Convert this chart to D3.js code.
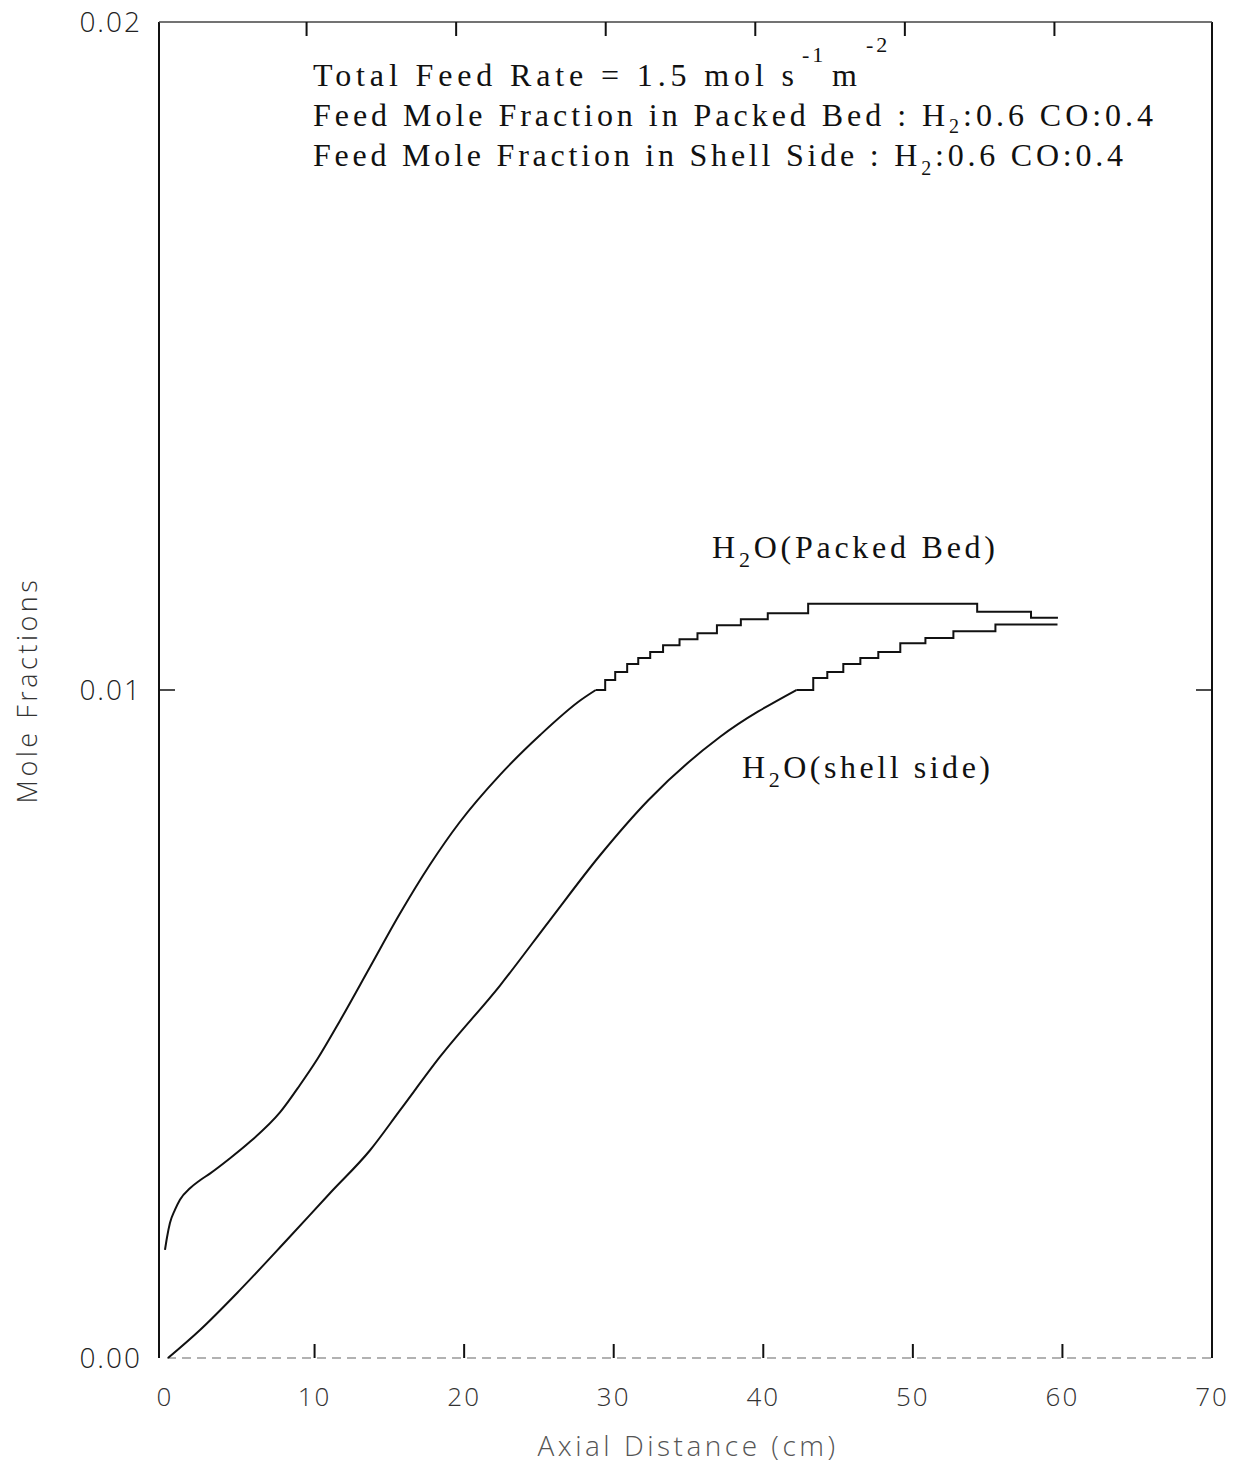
<!DOCTYPE html>
<html>
<head>
<meta charset="utf-8">
<script src="https://cdn.jsdelivr.net/npm/d3@7"></script>
<style>
  body { margin: 0; background: #fff; }
  svg { display: block; }
</style>
</head>
<body>
<script>
// axis ticks
const xTicks = [0, 10, 20, 30, 40, 50, 60, 70];
const xInnerTicks = [10, 20, 30, 40, 50, 60];
const yTicks = [0, 0.01, 0.02];
const yTickLabels = ["0.00", "0.01", "0.02"];

// H2O (packed bed) - smooth part, then the stepped tail
const packedX = [0, 0.13, 0.33, 0.67, 1.0, 1.67, 2.34, 3.0, 4.35, 5.7, 7.7, 9.0, 10.2, 11.7, 13.7, 15.7, 17.7, 19.7, 22.4, 25.1, 27.8, 28.8];
const packedY = [0.00162, 0.00180, 0.00202, 0.00222, 0.00237, 0.00254, 0.00266, 0.00276, 0.00299, 0.00324, 0.00368, 0.00408, 0.00448, 0.00505, 0.00585, 0.00665, 0.00738, 0.00802, 0.00873, 0.00933, 0.00985, 0.01000];
const packedStepX = [28.8, 29.43, 30.1, 30.9, 31.64, 32.44, 33.3, 34.4, 35.6, 36.9, 38.5, 40.3, 43.0, 54.3, 57.9, 59.7];
const packedStepY = [0.01000, 0.01015, 0.01027, 0.01039, 0.01048, 0.01057, 0.01067, 0.01076, 0.01085, 0.01097, 0.01106, 0.01115, 0.01129, 0.01117, 0.01108, 0.01108];

// H2O (shell side)
const shellX = [0.2, 2.34, 5.02, 8.16, 11.04, 13.71, 15.72, 18.39, 22.41, 25.75, 29.1, 32.31, 37.12, 42.21];
const shellY = [0, 0.00042, 0.00102, 0.00177, 0.00247, 0.00311, 0.00371, 0.00451, 0.00558, 0.00656, 0.00753, 0.00835, 0.00930, 0.01000];
const shellStepX = [42.21, 43.34, 44.28, 45.35, 46.49, 47.69, 49.16, 50.84, 52.71, 55.52, 59.67];
const shellStepY = [0.01000, 0.01018, 0.01027, 0.01039, 0.01048, 0.01057, 0.01070, 0.01078, 0.01088, 0.01098, 0.01098];

const W = 1238, H = 1470;
const frameL = 159, frameR = 1212, frameT = 22, frameB = 1358;

const svg = d3.select("body").append("svg")
  .attr("width", W)
  .attr("height", H);

svg.append("rect").attr("width", W).attr("height", H).attr("fill", "#fff");

const x = d3.scaleLinear().domain([0, 70]).range([165, 1212]);
const y = d3.scaleLinear().domain([0, 0.02]).range([frameB, frameT]);

const sans = "'Open Sans', 'DejaVu Sans', sans-serif";
const serif = "'Liberation Serif', 'DejaVu Serif', serif";

// frame
svg.append("line").attr("x1", frameL).attr("x2", frameL).attr("y1", frameT).attr("y2", frameB)
  .attr("stroke", "#111").attr("stroke-width", 2);
svg.append("line").attr("x1", frameR).attr("x2", frameR).attr("y1", frameT).attr("y2", frameB)
  .attr("stroke", "#111").attr("stroke-width", 2);
svg.append("line").attr("x1", frameL).attr("x2", frameR).attr("y1", frameT).attr("y2", frameT)
  .attr("stroke", "#444").attr("stroke-width", 1.5);
svg.append("line").attr("x1", frameL + 8).attr("x2", frameR).attr("y1", frameB).attr("y2", frameB)
  .attr("stroke", "#999").attr("stroke-width", 1.5).attr("stroke-dasharray", "9 6");

// ticks
svg.selectAll(".xtb").data(xInnerTicks).join("line")
  .attr("x1", d => x(d)).attr("x2", d => x(d))
  .attr("y1", frameB).attr("y2", frameB - 14)
  .attr("stroke", "#111").attr("stroke-width", 2);
svg.selectAll(".xtt").data(xInnerTicks).join("line")
  .attr("x1", d => x(d) - 8).attr("x2", d => x(d) - 8)
  .attr("y1", frameT).attr("y2", frameT + 14)
  .attr("stroke", "#111").attr("stroke-width", 2);
svg.append("line").attr("x1", frameL).attr("x2", frameL + 16).attr("y1", y(0.01)).attr("y2", y(0.01))
  .attr("stroke", "#111").attr("stroke-width", 1.5);
svg.append("line").attr("x1", frameR - 16).attr("x2", frameR).attr("y1", y(0.01)).attr("y2", y(0.01))
  .attr("stroke", "#111").attr("stroke-width", 1.5);

// tick labels
svg.selectAll(".xl").data(xTicks).join("text")
  .attr("x", d => x(d)).attr("y", 1406)
  .attr("text-anchor", "middle")
  .attr("font-family", sans).attr("font-weight", 300).attr("font-size", 26)
  .attr("letter-spacing", 2).attr("fill", "#333")
  .text(d => d);
svg.selectAll(".yl").data(yTicks).join("text")
  .attr("x", 142).attr("y", d => y(d) + 10)
  .attr("text-anchor", "end")
  .attr("font-family", sans).attr("font-weight", 300).attr("font-size", 28)
  .attr("letter-spacing", 2).attr("fill", "#222")
  .text((d, i) => yTickLabels[i]);

// axis titles
svg.append("text")
  .attr("x", 688).attr("y", 1456).attr("text-anchor", "middle")
  .attr("font-family", sans).attr("font-weight", 300).attr("font-size", 28)
  .attr("letter-spacing", 3.5).attr("fill", "#555")
  .text("Axial Distance (cm)");
svg.append("text")
  .attr("transform", "translate(37,690) rotate(-90)").attr("text-anchor", "middle")
  .attr("font-family", sans).attr("font-weight", 300).attr("font-size", 27)
  .attr("letter-spacing", 3.5).attr("fill", "#333")
  .text("Mole Fractions");

// curves
const smooth = d3.line().x(d => x(d[0])).y(d => y(d[1])).curve(d3.curveMonotoneX);
const step = d3.line().x(d => x(d[0])).y(d => y(d[1])).curve(d3.curveStepAfter);

const series = [
  { xs: packedX, ys: packedY, gen: smooth },
  { xs: packedStepX, ys: packedStepY, gen: step },
  { xs: shellX, ys: shellY, gen: smooth },
  { xs: shellStepX, ys: shellStepY, gen: step }
];
series.forEach(s => {
  svg.append("path")
    .attr("d", s.gen(s.xs.map((v, i) => [v, s.ys[i]])))
    .attr("fill", "none")
    .attr("stroke", "#111")
    .attr("stroke-width", 2);
});

// stretch a text element so it spans x0..x1
function fit(t, x0, x1) {
  const n = t.text().length;
  const w = t.node().getComputedTextLength();
  t.attr("letter-spacing", (x1 - x0 - w) / (n - 1));
}

function subText(x0, x1, yb, parts, size) {
  const t = svg.append("text").attr("x", x0).attr("y", yb)
    .attr("font-family", serif).attr("font-size", size).attr("fill", "#111");
  parts.forEach(p => {
    t.append("tspan").attr("dy", p.dy || 0).attr("font-size", p.size || size).text(p.t);
  });
  fit(t, x0, x1);
  return t;
}

// annotation block
subText(313, 794, 86, [{ t: "Total Feed Rate = 1.5 mol s" }], 32);
svg.append("text").attr("x", 802).attr("y", 62).attr("font-family", serif).attr("font-size", 22)
  .attr("letter-spacing", 3).attr("fill", "#111").text("-1");
svg.append("text").attr("x", 832).attr("y", 86).attr("font-family", serif).attr("font-size", 32).attr("fill", "#111").text("m");
svg.append("text").attr("x", 866).attr("y", 52).attr("font-family", serif).attr("font-size", 22)
  .attr("letter-spacing", 3).attr("fill", "#111").text("-2");

subText(313, 1153, 126, [
  { t: "Feed Mole Fraction in Packed Bed : H" },
  { t: "2", dy: 7, size: 20 },
  { t: ":0.6 CO:0.4", dy: -7 }
], 32);
subText(313, 1123, 166, [
  { t: "Feed Mole Fraction in Shell Side : H" },
  { t: "2", dy: 9, size: 20 },
  { t: ":0.6 CO:0.4", dy: -9 }
], 32);

// curve labels
subText(712, 995, 558, [
  { t: "H" }, { t: "2", dy: 9, size: 22 }, { t: "O(Packed Bed)", dy: -9 }
], 32);
subText(742, 990, 778, [
  { t: "H" }, { t: "2", dy: 9, size: 22 }, { t: "O(shell side)", dy: -9 }
], 32);
</script>
</body>
</html>
